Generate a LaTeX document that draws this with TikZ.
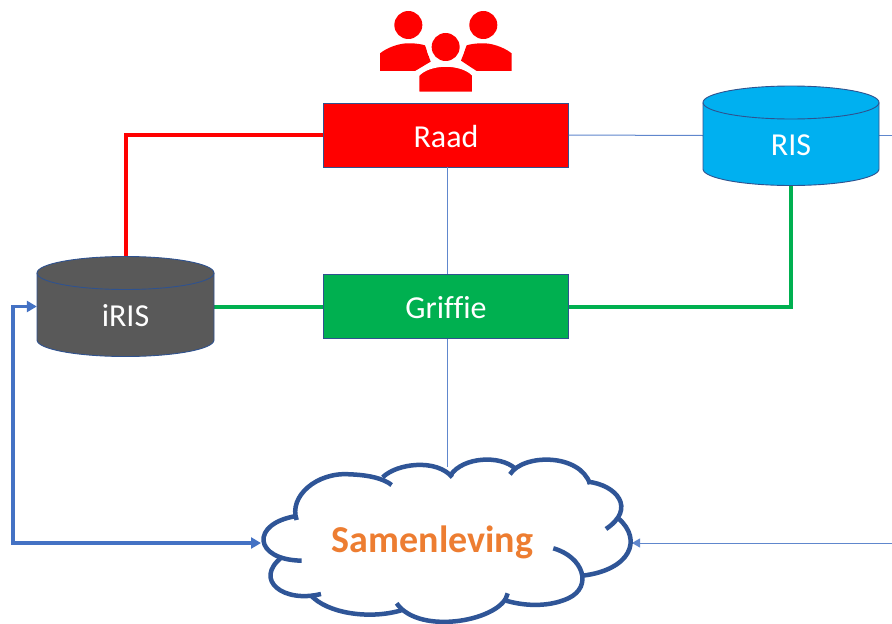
\documentclass[tikz,border=0pt]{standalone}
\usepackage{fontspec}
\setmainfont[Ligatures=NoCommon]{Carlito}
\usetikzlibrary{arrows.meta}
\definecolor{edgeblue}{HTML}{2F528F}
\definecolor{lineblue}{HTML}{4472C4}
\definecolor{cloudblue}{HTML}{2F5597}
\definecolor{griffiegreen}{HTML}{00B050}
\definecolor{risblue}{HTML}{00B0F0}
\definecolor{irisgrey}{HTML}{595959}
\definecolor{samenorange}{HTML}{ED7D31}
\tikzset{
  boxnode/.style={draw=edgeblue,line width=0.9pt,minimum width=245pt,minimum height=64pt,inner sep=0pt,text=white,font=\fontsize{32}{36}\selectfont},
  thinline/.style={lineblue!85!white,line width=1pt},
  redline/.style={red,line width=4pt},
  greenline/.style={griffiegreen,line width=4pt},
  arrowline/.style={lineblue,line width=3.2pt,{Triangle[length=10pt,width=11pt]}-{Triangle[length=10pt,width=11pt]}},
  thinarrow/.style={lineblue!85!white,line width=1pt,-{Triangle[length=8pt,width=9pt]}},
  cloudarc/.style={cloudblue,line width=4.5pt,line cap=butt},
  personfill/.style={fill=red,draw=none}
}
% #1 centre x, #2 top y, #3 half width, #4 body height, #5 ry, #6 fill
\newcommand{\dbcylinder}[6]{%
  \path[fill=#6,draw=edgeblue,line width=0.9pt]
    (#1-#3,#2+#5) arc[x radius=#3,y radius=#5,start angle=180,end angle=360]
    -- (#1+#3,#2+#5+#4) arc[x radius=#3,y radius=#5,start angle=0,end angle=180] -- cycle;
  \draw[edgeblue,line width=0.9pt] (#1-#3,#2+#5) arc[x radius=#3,y radius=#5,start angle=180,end angle=0];
}
\begin{document}
\begin{tikzpicture}[x=1pt,y=-1pt]
\useasboundingbox (0,0) rectangle (892,624);
\clip (0,0) rectangle (892,624);
\fill[white] (0,0) rectangle (892,624);

% connector anchors
\node[boxnode,fill=red] (raad) at (446,135) {\raisebox{-2pt}[\height][\depth]{Raad}};
\node[boxnode,fill=griffiegreen] (griffie) at (446,306.5) {\raisebox{-1.5pt}[\height][\depth]{Griffie}};
\node[minimum width=177pt,minimum height=100pt,inner sep=0pt] (iris) at (125.5,306.5) {};
\node[minimum width=176pt,minimum height=100pt,inner sep=0pt] (ris) at (791,135.5) {};
\coordinate (risout) at (892,135.5);
\coordinate (cloudtop) at (447,467);
\coordinate (cloudwest) at (261,543);
\coordinate (cloudeast) at (632,543);
\coordinate (eastedge) at (892,543);
\coordinate (leftrail) at (13,543);

% thin connectors
\draw[thinline] (raad.east) -- (ris.west);
\draw[thinline] (ris.east) -- (risout);
\draw[thinline] (raad.south -| cloudtop) -- (griffie.north -| cloudtop);
\draw[thinline] (griffie.south -| cloudtop) -- (cloudtop);

% thick connectors
\draw[redline] (iris.north) |- (raad.west);
\draw[greenline] (iris.east) -- (griffie.west);
\draw[greenline] (griffie.east) -| (ris.south);
\draw[arrowline] (iris.west) -- (leftrail |- iris.west) -- (leftrail) -- (cloudwest);
\draw[thinarrow] (eastedge) -- (cloudeast);

% cylinders
\dbcylinder{125.5}{256.5}{88.5}{67}{16.5}{irisgrey}
\dbcylinder{791}{86}{88}{66.5}{16.5}{risblue}
\node[text=white,font=\fontsize{32}{36}\selectfont] (iristext) at (125.5,316) {iRIS};
\node[text=white,font=\fontsize{32}{36}\selectfont] (ristext) at (791,145) {RIS};

% people icon
\begin{scope}[shift={(360,0)},x=0.3333pt,y=-0.3333pt]
  \fill[personfill] (145,75) circle[radius=42];
  \fill[personfill] (370,75) circle[radius=42];
  \fill[personfill] (60,213) -- (60,160) .. controls (85,140) and (125,128) .. (150,130)
     .. controls (170,130) and (185,133) .. (195,136) -- (212,185) -- (165,213) -- cycle;
  \fill[personfill] (455,213) -- (455,160) .. controls (430,140) and (390,128) .. (365,130)
     .. controls (345,130) and (330,133) .. (320,136) -- (303,182) -- (350,213) -- cycle;
  \fill[white] (257,141) circle[radius=57];
  \path[personfill,draw=white,line width=3.5pt] (173,280) -- (173,225) .. controls (190,205) and (225,195) .. (257,195)
     .. controls (290,195) and (325,205) .. (342,225) -- (342,280) -- cycle;
  \fill[white] (165,282) rectangle (350,295);
  \fill[personfill] (257,141) circle[radius=42];
\end{scope}

% cloud
\begin{scope}[shift={(240,440)},x=0.3333pt,y=-0.3333pt]
  \draw[cloudarc] (170,240) .. controls (145,170) and (230,95) .. (330,103) .. controls (385,105) and (430,115) .. (455,135);
  \draw[cloudarc] (428,112) .. controls (470,70) and (590,55) .. (637,112);
  \draw[cloudarc] (632,105) .. controls (670,50) and (780,45) .. (825,85);
  \draw[cloudarc] (810,103) .. controls (850,40) and (1020,40) .. (1050,132);
  \draw[cloudarc] (1043,125) .. controls (1130,135) and (1190,205) .. (1098,267);
  \draw[cloudarc] (1135,235) .. controls (1210,300) and (1170,390) .. (1028,407);
  \draw[cloudarc] (940,325) .. controls (1030,350) and (1060,440) .. (985,475) .. controls (930,500) and (860,500) .. (798,482);
  \draw[cloudarc] (803,460) .. controls (790,540) and (540,590) .. (470,490);
  \draw[cloudarc] (487,510) .. controls (390,540) and (260,520) .. (212,465);
  \draw[cloudarc] (243,462) .. controls (130,490) and (40,420) .. (125,352);
  \draw[cloudarc] (185,362) .. controls (40,360) and (30,250) .. (170,228);
\end{scope}
\node[text=samenorange,font=\fontsize{38}{42}\selectfont\bfseries] (samen) at (432.5,542) {Samenleving};
\end{tikzpicture}
\end{document}
